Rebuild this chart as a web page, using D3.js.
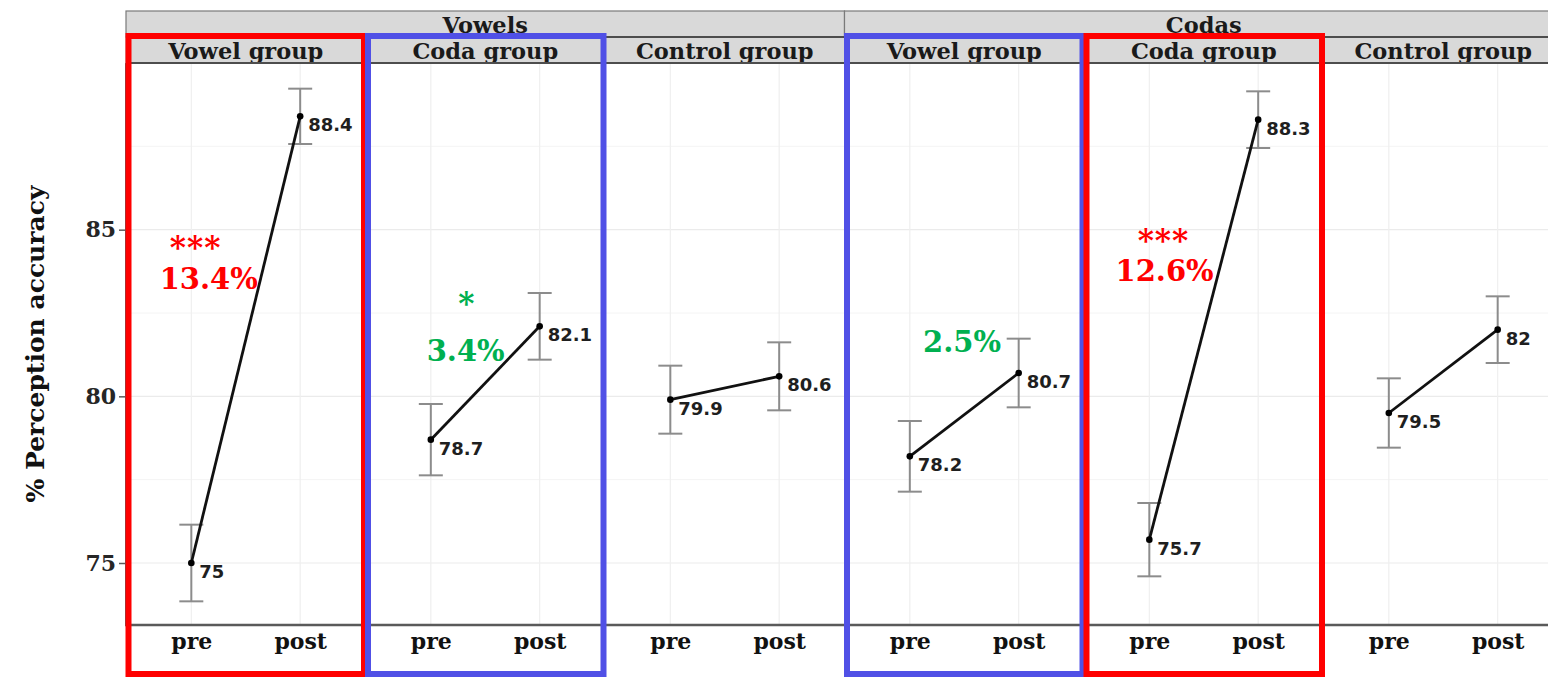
<!DOCTYPE html>
<html>
<head>
<meta charset="utf-8">
<script src="https://cdn.jsdelivr.net/npm/d3@7"></script>
<style>
  body { margin: 0; background: #ffffff; }
  svg { display: block; }
</style>
</head>
<body>
<div id="chart"></div>
<script>
// Facet labels
const blocks = ["Vowels", "Codas"];
const groups = ["Vowel group", "Coda group", "Control group"];
const times = ["pre", "post"];

// Means (one value per group)
const vowelsPre = [75, 78.7, 79.9];
const vowelsPost = [88.4, 82.1, 80.6];
const codasPre = [78.2, 75.7, 79.5];
const codasPost = [80.7, 88.3, 82];

// Error bar half widths
const vowelsPreErr = [1.15, 1.07, 1.02];
const vowelsPostErr = [0.83, 1.0, 1.02];
const codasPreErr = [1.06, 1.1, 1.04];
const codasPostErr = [1.03, 0.85, 1.0];

const yTicks = [75, 80, 85];
const yMinor = [77.5, 82.5, 87.5];

// Highlighted panels (index 0..5) and their colours
const highlightPanels = [0, 1, 3, 4];
const highlightColors = ["#ff0000", "#5050e6", "#5050e6", "#ff0000"];

// Significance notes: panel, x in category units (pre = 1, post = 2), y in % units
const noteText = ["***", "13.4%", "*", "3.4%", "2.5%", "***", "12.6%"];
const notePanel = [0, 0, 1, 1, 3, 4, 4];
const noteX = [1.04, 1.16, 1.33, 1.32, 1.48, 1.13, 1.14];
const noteY = [84.67, 83.53, 82.99, 81.38, 81.65, 84.88, 83.77];
const noteColor = ["#ff0000", "#ff0000", "#00b050", "#00b050", "#00b050", "#ff0000", "#ff0000"];

// Build one row per panel
const pre = vowelsPre.concat(codasPre);
const post = vowelsPost.concat(codasPost);
const preErr = vowelsPreErr.concat(codasPreErr);
const postErr = vowelsPostErr.concat(codasPostErr);
const panels = d3.range(6).map(i => ({
    index: i,
    block: blocks[Math.floor(i / 3)],
    group: groups[i % 3],
    points: [
        { time: "pre", value: pre[i], err: preErr[i] },
        { time: "post", value: post[i], err: postErr[i] }
    ]
}));

const width = 1548;
const height = 677;
const margin = { top: 63, left: 126, bottom: 52 };
const panelWidth = 239.5;

const svg = d3.select("#chart").append("svg")
    .attr("width", width)
    .attr("height", height);

const panelX = d3.scaleBand()
    .domain(d3.range(6))
    .range([margin.left, margin.left + 6 * panelWidth]);

const y = d3.scaleLinear()
    .domain([73.14, 90.0])
    .range([height - margin.bottom, margin.top]);

// x inside a panel, like ggplot's discrete scale with 0.6 expansion
const xPoint = d3.scalePoint().domain(times).range([0, panelX.bandwidth()]).padding(0.6);
const xPos = d3.scaleLinear().domain([0.4, 2.6]).range([0, panelX.bandwidth()]);

const plotTop = margin.top;
const plotBottom = height - margin.bottom;

// Grid
const grid = svg.append("g");
grid.selectAll("line.minor")
    .data(yMinor)
    .join("line")
    .attr("x1", margin.left).attr("x2", width)
    .attr("y1", d => y(d)).attr("y2", d => y(d))
    .attr("stroke", "#f4f4f4").attr("stroke-width", 1);
grid.selectAll("line.major")
    .data(yTicks)
    .join("line")
    .attr("x1", margin.left).attr("x2", width)
    .attr("y1", d => y(d)).attr("y2", d => y(d))
    .attr("stroke", "#ebebeb").attr("stroke-width", 1.2);
grid.selectAll("g")
    .data(panels)
    .join("g")
    .attr("transform", d => `translate(${panelX(d.index)},0)`)
    .selectAll("line")
    .data(times)
    .join("line")
    .attr("x1", t => xPoint(t)).attr("x2", t => xPoint(t))
    .attr("y1", plotTop).attr("y2", plotBottom)
    .attr("stroke", "#efefef").attr("stroke-width", 1.2);

// Panels: error bars, line, points, labels
const panel = svg.selectAll("g.panel")
    .data(panels)
    .join("g")
    .attr("class", "panel")
    .attr("transform", d => `translate(${panelX(d.index)},0)`);

panel.each(function (d) {
    const g = d3.select(this);
    const bars = g.selectAll("g.err")
        .data(d.points)
        .join("g")
        .attr("class", "err")
        .attr("stroke", "#8c8c8c")
        .attr("stroke-width", 2);
    bars.append("line")
        .attr("x1", p => xPoint(p.time)).attr("x2", p => xPoint(p.time))
        .attr("y1", p => y(p.value - p.err)).attr("y2", p => y(p.value + p.err));
    bars.append("line")
        .attr("x1", p => xPoint(p.time) - 12).attr("x2", p => xPoint(p.time) + 12)
        .attr("y1", p => y(p.value + p.err)).attr("y2", p => y(p.value + p.err));
    bars.append("line")
        .attr("x1", p => xPoint(p.time) - 12).attr("x2", p => xPoint(p.time) + 12)
        .attr("y1", p => y(p.value - p.err)).attr("y2", p => y(p.value - p.err));

    g.append("path")
        .datum(d.points)
        .attr("d", d3.line().x(p => xPoint(p.time)).y(p => y(p.value)))
        .attr("fill", "none")
        .attr("stroke", "#111")
        .attr("stroke-width", 2.8);

    g.selectAll("circle")
        .data(d.points)
        .join("circle")
        .attr("cx", p => xPoint(p.time))
        .attr("cy", p => y(p.value))
        .attr("r", 3.3)
        .attr("fill", "#000");

    g.selectAll("text.val")
        .data(d.points)
        .join("text")
        .attr("class", "val")
        .attr("x", p => xPoint(p.time) + 8)
        .attr("y", p => y(p.value) + 15)
        .text(p => String(p.value))
        .style("font-family", "'DejaVu Sans', sans-serif")
        .style("font-weight", "bold")
        .style("font-size", "18px")
        .attr("fill", "#1f1f1f");
});

// Axis lines
svg.append("line")
    .attr("x1", margin.left).attr("x2", margin.left)
    .attr("y1", plotTop).attr("y2", plotBottom)
    .attr("stroke", "#5a5a5a").attr("stroke-width", 2);
svg.append("line")
    .attr("x1", margin.left - 1).attr("x2", width)
    .attr("y1", plotBottom).attr("y2", plotBottom)
    .attr("stroke", "#5a5a5a").attr("stroke-width", 2.5);

// Y axis
const yAxis = svg.append("g")
    .attr("transform", `translate(${margin.left},0)`)
    .call(d3.axisLeft(y).tickValues(yTicks).tickSize(7).tickPadding(3));
yAxis.select(".domain").remove();
yAxis.selectAll("line").attr("stroke", "#5a5a5a").attr("stroke-width", 1.5);
yAxis.selectAll("text")
    .style("font-family", "'DejaVu Serif', serif")
    .style("font-weight", "bold")
    .style("font-size", "22px")
    .attr("fill", "#262626");

svg.append("text")
    .attr("transform", `translate(44, ${(plotTop + plotBottom) / 2}) rotate(-90)`)
    .attr("text-anchor", "middle")
    .text("% Perception accuracy")
    .style("font-family", "'DejaVu Serif', serif")
    .style("font-weight", "bold")
    .style("font-size", "25px")
    .attr("fill", "#111");

// X axis per panel
panel.each(function () {
    const ax = d3.select(this).append("g")
        .attr("transform", `translate(0,${plotBottom})`)
        .call(d3.axisBottom(xPoint).tickSize(0).tickPadding(8));
    ax.select(".domain").remove();
    ax.selectAll("text")
        .style("font-family", "'DejaVu Serif', serif")
        .style("font-weight", "bold")
        .style("font-size", "22px")
        .attr("fill", "#111");
});

// Strips
const stripFont = g => g
    .style("font-family", "'DejaVu Serif', serif")
    .style("font-weight", "bold")
    .style("font-size", "22.5px")
    .attr("fill", "#1a1a1a")
    .attr("text-anchor", "middle");

const outer = svg.selectAll("g.outer")
    .data(blocks)
    .join("g")
    .attr("class", "outer");
outer.append("rect")
    .attr("x", (d, i) => panelX(i * 3))
    .attr("y", 11)
    .attr("width", panelX.bandwidth() * 3)
    .attr("height", 26)
    .attr("fill", "#d9d9d9")
    .attr("stroke", "#7a7a7a")
    .attr("stroke-width", 1.2);
outer.append("text")
    .attr("x", (d, i) => panelX(i * 3) + panelX.bandwidth() * 1.5)
    .attr("y", 33)
    .text(d => d)
    .call(stripFont);

const inner = svg.selectAll("g.inner")
    .data(panels)
    .join("g")
    .attr("class", "inner");
inner.append("rect")
    .attr("x", d => panelX(d.index))
    .attr("y", 37)
    .attr("width", panelX.bandwidth())
    .attr("height", 26)
    .attr("fill", "#d9d9d9")
    .attr("stroke", "#8a8a8a")
    .attr("stroke-width", 1);
inner.append("text")
    .attr("x", d => panelX(d.index) + panelX.bandwidth() / 2)
    .attr("y", 59)
    .text(d => d.group)
    .call(stripFont);
svg.selectAll("line.strip-rule")
    .data([37, 63])
    .join("line")
    .attr("x1", margin.left).attr("x2", width)
    .attr("y1", d => d).attr("y2", d => d)
    .attr("stroke", "#4d4d4d")
    .attr("stroke-width", 2);

// Significance notes
svg.selectAll("text.note")
    .data(noteText)
    .join("text")
    .attr("class", "note")
    .attr("x", (d, i) => panelX(notePanel[i]) + xPos(noteX[i]))
    .attr("y", (d, i) => y(noteY[i]) + (d.includes("*") ? 17 : 10.5))
    .attr("text-anchor", "middle")
    .text(d => d)
    .style("font-family", "'DejaVu Serif', serif")
    .style("font-weight", "bold")
    .style("font-size", d => d.includes("*") ? "31px" : "29px")
    .style("letter-spacing", d => d.includes("*") ? "1px" : "0px")
    .attr("fill", (d, i) => noteColor[i]);

// Highlight boxes
svg.selectAll("rect.highlight")
    .data(highlightPanels)
    .join("rect")
    .attr("class", "highlight")
    .attr("x", d => panelX(d) + 2.5)
    .attr("y", 36)
    .attr("width", panelX.bandwidth() - 4)
    .attr("height", 638)
    .attr("fill", "none")
    .attr("stroke", (d, i) => highlightColors[i])
    .attr("stroke-width", 6);
</script>
</body>
</html>
